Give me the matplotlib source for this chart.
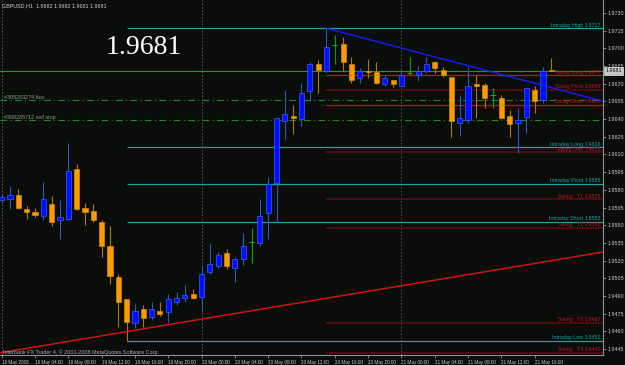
import matplotlib
matplotlib.use("Agg")
import matplotlib.pyplot as plt
from matplotlib import font_manager
from matplotlib.transforms import blended_transform_factory
import numpy as np

# GBPUSD H1 bars, starting 19 May 2008 00:00
opens = [1.9571, 1.9572, 1.9576, 1.9564, 1.9561, 1.9558, 1.9568, 1.9554, 1.9555, 1.9598,
         1.9565, 1.9562, 1.9553, 1.9532, 1.9506, 1.9487, 1.9467, 1.9479, 1.9472, 1.9477,
         1.9476, 1.9485, 1.9488, 1.9492, 1.9489, 1.9510, 1.9515, 1.9526, 1.9514, 1.9521,
         1.9536, 1.9535, 1.9560, 1.9586, 1.9638, 1.9643, 1.9640, 1.9664, 1.9687, 1.9681,
         1.9703, 1.9704, 1.9687, 1.9675, 1.9681, 1.9680, 1.9670, 1.9673, 1.9668, 1.9679,
         1.9677, 1.9681, 1.9688, 1.9682, 1.9676, 1.9637, 1.9639, 1.9670, 1.9669, 1.9660,
         1.9658, 1.9643, 1.9637, 1.9642, 1.9665, 1.9656, 1.9682]
highs = [1.9577, 1.9583, 1.9581, 1.9566, 1.9565, 1.9587, 1.9575, 1.9571, 1.9620, 1.9602,
         1.9569, 1.9568, 1.9554, 1.9549, 1.9509, 1.9487, 1.9483, 1.9482, 1.9485, 1.9485,
         1.9492, 1.9493, 1.9499, 1.9496, 1.9515, 1.9534, 1.9527, 1.9530, 1.9523, 1.9543,
         1.9548, 1.9572, 1.9591, 1.9641, 1.9665, 1.9652, 1.9671, 1.9688, 1.9690, 1.9717,
         1.9711, 1.9710, 1.9693, 1.9683, 1.9691, 1.9688, 1.9677, 1.9673, 1.9683, 1.9693,
         1.9685, 1.9693, 1.9689, 1.9684, 1.9676, 1.9660, 1.9684, 1.9677, 1.9671, 1.9666,
         1.9660, 1.9648, 1.9649, 1.9666, 1.9668, 1.9684, 1.9692]
lows = [1.9569, 1.9564, 1.9564, 1.9555, 1.9557, 1.9554, 1.9549, 1.9538, 1.9554, 1.9563,
        1.9550, 1.9553, 1.9523, 1.9500, 1.9464, 1.9452, 1.9463, 1.9464, 1.9470, 1.9473,
        1.9467, 1.9482, 1.9485, 1.9487, 1.9476, 1.9509, 1.9514, 1.9513, 1.9502, 1.9516,
        1.9518, 1.9532, 1.9538, 1.9553, 1.9623, 1.9627, 1.9634, 1.9655, 1.9662, 1.9679,
        1.9687, 1.9681, 1.9671, 1.9671, 1.9675, 1.9670, 1.9668, 1.9667, 1.9668, 1.9677,
        1.9672, 1.9679, 1.9679, 1.9676, 1.9625, 1.9626, 1.9637, 1.9641, 1.9649, 1.9649,
        1.9640, 1.9625, 1.9611, 1.9628, 1.9645, 1.9654, 1.9681]
closes = [1.9574, 1.9576, 1.9565, 1.9561, 1.9559, 1.9572, 1.9553, 1.9557, 1.9596, 1.9564,
          1.9561, 1.9554, 1.9532, 1.9507, 1.9485, 1.9468, 1.9477, 1.9471, 1.9479, 1.9475,
          1.9487, 1.9488, 1.9491, 1.9488, 1.9509, 1.9517, 1.9525, 1.9515, 1.9521, 1.9532,
          1.9536, 1.9558, 1.9585, 1.9641, 1.9644, 1.9641, 1.9662, 1.9687, 1.9682, 1.9701,
          1.9703, 1.9688, 1.9673, 1.9681, 1.9680, 1.9671, 1.9675, 1.9670, 1.9677, 1.9679,
          1.9681, 1.9687, 1.9683, 1.9677, 1.9638, 1.9641, 1.9668, 1.9668, 1.9658, 1.9660,
          1.9641, 1.9636, 1.9639, 1.9666, 1.9655, 1.9681, 1.9681]

# indicator levels
intraday_names = ["Intraday High", "Intraday Long", "Intraday Pivot", "Intraday Short", "Intraday Low"]
intraday_prices = [1.9717, 1.9616, 1.9585, 1.9553, 1.9452]
intraday_start = 15
swing_names = ["Swing Long", "Swing Pivot", "Swing Short", "Swing Low",
               "Swing   T1", "Swing   T2", "Swing   T3", "Swing   T4"]
swing_prices = [1.9677, 1.9665, 1.9652, 1.9612, 1.9572, 1.9548, 1.9467, 1.9442]
swing_solid = [True, False, True, False, False, False, False, False]
swing_start = 39

orders = ["#308283274 buy", "#308285712 sell stop"]
order_prices = [1.9656, 1.9639]

trend_down = [(39, 1.9717), (72, 1.96555)]
trend_up = [(0, 1.9442), (72, 1.9527)]

separators = [0, 24, 48]

price_ticks = [1.9730, 1.9715, 1.9700, 1.9685, 1.9670, 1.9655, 1.9640, 1.9625, 1.9610, 1.9595,
               1.9580, 1.9565, 1.9550, 1.9535, 1.9520, 1.9505, 1.9490, 1.9475, 1.9460, 1.9445]
time_ticks = [0, 4, 8, 12, 16, 20, 24, 28, 32, 36, 40, 44, 48, 52, 56, 60, 64]
time_labels = ["19 May 2008", "19 May 04:00", "19 May 08:00", "19 May 12:00", "19 May 16:00",
               "19 May 20:00", "20 May 00:00", "20 May 04:00", "20 May 08:00", "20 May 12:00",
               "20 May 16:00", "20 May 20:00", "21 May 00:00", "21 May 04:00", "21 May 08:00",
               "21 May 12:00", "21 May 16:00"]

# small text font
names = {f.name for f in font_manager.fontManager.ttflist}
small_font = "Liberation Sans Narrow" if "Liberation Sans Narrow" in names else "Liberation Sans"
fs = 3.9
fs_time = 3.3

bg = "#0a0d0a"
teal = "#1ea3a3"
red = "#c0101c"
darkred = "#8a0a10"
green = "#1f9a1f"

fig = plt.figure(figsize=(6.25, 3.65), dpi=100)
fig.patch.set_facecolor(bg)
ax = fig.add_axes([0, 10 / 365, 603 / 625, 355 / 365])
ax.set_facecolor(bg)
ax.set_xlim(-0.2, 72.2)
ax.set_ylim(1.94399, 1.97410)

x = np.arange(len(opens))
o = np.array(opens)
c = np.array(closes)

# period separators
for s in separators:
    ax.axvline(s, color="#5a5a5a", lw=0.7, ls=(0, (1.5, 2)), zorder=1)

# indicator lines
trans = blended_transform_factory(ax.transAxes, ax.transData)
for nm, p in zip(intraday_names, intraday_prices):
    ax.hlines(p, intraday_start, 72.2, color=teal, lw=0.9, zorder=2)
    ax.text(0.967, p + 0.00005, nm, color=teal, fontsize=fs, family=small_font,
            ha="right", va="bottom", transform=trans)
    ax.text(0.997, p + 0.00005, f"{p:.4f}", color=teal, fontsize=fs, family=small_font,
            ha="right", va="bottom", transform=trans)
for nm, p, solid in zip(swing_names, swing_prices, swing_solid):
    if solid:
        ax.hlines(p, swing_start, 72.2, color=red, lw=0.9, zorder=2)
    else:
        ax.hlines(p, swing_start, 72.2, color=darkred, lw=1.2, ls=(0, (1, 0.6)), zorder=2)
    ax.text(0.967, p + 0.00005, nm, color="#d01020", fontsize=fs, family=small_font,
            ha="right", va="bottom", transform=trans)
    ax.text(0.997, p + 0.00005, f"{p:.4f}", color="#d01020", fontsize=fs, family=small_font,
            ha="right", va="bottom", transform=trans)

for nm, p in zip(orders, order_prices):
    ax.axhline(p, color="#16901a", lw=0.8, ls=(0, (6, 3, 1, 3)), zorder=2)
    ax.text(0.006, p + 0.00005, nm, color="#8aa08a", fontsize=fs, family=small_font,
            ha="left", va="bottom", transform=trans)

# bid line
bid = closes[-1]
ax.axhline(bid, color=green, lw=0.8, zorder=2)

# trend lines
(x0, y0), (x1, y1) = trend_down
xs = np.array([x0, 72.2])
ax.plot(xs, y0 + (xs - x0) * (y1 - y0) / (x1 - x0), color="#1a1aff", lw=1.0, zorder=5)
ax.axline(trend_up[0], trend_up[1], color="#e0101a", lw=1.0, zorder=5)

# candles
up = c > o
down = c < o
doji = c == o
ax.vlines(x[up], np.array(lows)[up], np.array(highs)[up], color="#2a5cc0", lw=0.8, zorder=3)
ax.vlines(x[down], np.array(lows)[down], np.array(highs)[down], color="#b07a10", lw=0.8, zorder=3)
ax.vlines(x[doji], np.array(lows)[doji], np.array(highs)[doji], color="#10a010", lw=0.8, zorder=3)
ax.bar(x[up], (c - o)[up], bottom=o[up], width=0.62, color="#0010ff",
       edgecolor="#3a5cff", lw=0.5, zorder=4)
ax.bar(x[down], (o - c)[down], bottom=c[down], width=0.62, color="#ff9a00",
       edgecolor="#c88a10", lw=0.5, zorder=4)
ax.hlines(c[doji], x[doji] - 0.31, x[doji] + 0.31, color="#10b010", lw=0.8, zorder=4)

# axes styling
for side in ["top", "left"]:
    ax.spines[side].set_visible(False)
for side in ["right", "bottom"]:
    ax.spines[side].set_color("#909090")
    ax.spines[side].set_linewidth(0.8)
ax.yaxis.tick_right()
ax.set_yticks(price_ticks)
ax.set_yticklabels([f"{t:.4f}" for t in price_ticks])
ax.set_xticks(time_ticks)
ax.set_xticklabels(time_labels)
ax.tick_params(axis="both", colors="#909090", labelcolor="#c8c8c8", labelsize=fs,
               length=2, width=0.6, pad=1.5)
ax.tick_params(axis="x", labelsize=fs_time)
for lbl in ax.get_xticklabels():
    lbl.set_ha("left")
    lbl.set_family(small_font)
for lbl in ax.get_yticklabels():
    lbl.set_family(small_font)

# bid price box on the price scale
ax.text(1.004, bid, f"{bid:.4f}", color="#101010", fontsize=fs, family=small_font,
        ha="left", va="center", transform=trans, clip_on=False,
        bbox=dict(boxstyle="square,pad=0.25", fc="#c8c8c8", ec="#e0e0e0", lw=0.5), zorder=10)

# header, big price and copyright
fig.text(2 / 625, 1 - 6 / 365, "GBPUSD,H1  %.4f %.4f %.4f %.4f" % (opens[-1], highs[-1], lows[-1], closes[-1]),
         color="#d0d0d0", fontsize=fs, family=small_font, ha="left", va="center")
fig.text(106 / 625, 1 - 54 / 365, f"{bid:.4f}", color="white", fontsize=20,
         family="Liberation Serif", ha="left", va="baseline")
fig.text(3 / 625, 1 - 352 / 365, "Interbank FX Trader 4, \u00a9 2001-2008 MetaQuotes Software Corp.",
         color="#b0b0b0", fontsize=fs, family=small_font, ha="left", va="center")

fig.savefig("out.png", dpi=100, facecolor=bg)
